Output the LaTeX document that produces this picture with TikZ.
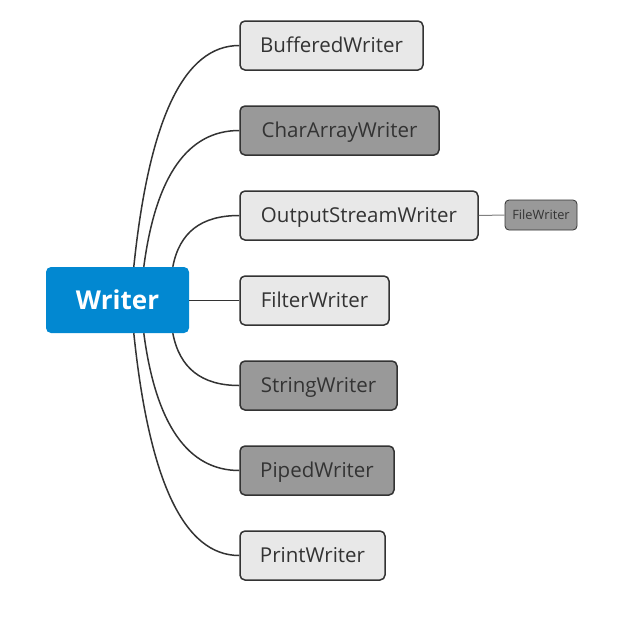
\documentclass[tikz,border=0pt]{standalone}
\usepackage{fontspec}
\setmainfont{Open Sans}
\usetikzlibrary{calc}
\definecolor{wblue}{HTML}{0288D1}
\definecolor{lightfill}{HTML}{E8E8E8}
\definecolor{darkfill}{HTML}{999999}
\definecolor{edge}{HTML}{333333}
\definecolor{txt}{HTML}{333333}
\tikzset{
  x=1pt,y=-1pt,
  child/.style={draw=edge, line width=1.5pt, rounded corners=5pt, minimum height=49pt, inner sep=0pt, text=txt, text height=14.6pt, text depth=0pt, font=\fontsize{20.5}{24}\selectfont},
  lightbox/.style={child, fill=lightfill},
  darkbox/.style={child, fill=darkfill},
  root/.style={fill=wblue, rounded corners=5pt, minimum width=143pt, minimum height=66pt, inner sep=0pt, text=white, text height=18.6pt, text depth=0pt, font=\fontsize{26}{30}\selectfont\bfseries},
  small/.style={draw=edge, line width=0.8pt, fill=darkfill, rounded corners=4pt, minimum width=72pt, minimum height=30pt, inner sep=0pt, text=txt, text height=9.1pt, text depth=0pt, font=\fontsize{12.8}{15}\selectfont},
  conn/.style={draw=edge, line width=1.5pt},
  thin/.style={draw=gray, line width=1pt}
}
\begin{document}
\begin{tikzpicture}
\useasboundingbox (0,0) rectangle (629,625);
\node[root] (w) at (117.5,300) {Writer};
\node[lightbox, minimum width=183pt] (bw) at (331.5,45.5) {BufferedWriter};
\node[darkbox, minimum width=199pt] (caw) at (339.5,130.5) {CharArrayWriter};
\node[lightbox, minimum width=238pt] (osw) at (359,215.5) {OutputStreamWriter};
\node[lightbox, minimum width=149pt] (fw) at (314.5,300.5) {FilterWriter};
\node[darkbox, minimum width=157pt] (sw) at (318.5,385.5) {StringWriter};
\node[darkbox, minimum width=154pt] (pw) at (317,470.5) {PipedWriter};
\node[lightbox, minimum width=145pt] (prw) at (312.5,555.5) {PrintWriter};
\node[small] (fiw) at (541,215) {FileWriter};
% connectors
\draw[conn] ([xshift=88pt]w.north west) .. controls +(15.3,-148) and +(-55.3,0) .. (bw.west);
\draw[conn] ([xshift=98pt]w.north west) .. controls +(12,-91.3) and +(-51.3,0) .. (caw.west);
\draw[conn] ([xshift=127pt]w.north west) .. controls +(6.7,-34.7) and +(-38,0) .. (osw.west);
\draw[conn] (w.east |- fw.west) -- (fw.west);
\draw[conn] ([xshift=127pt]w.south west) .. controls +(6.7,34.7) and +(-38,0) .. (sw.west);
\draw[conn] ([xshift=98pt]w.south west) .. controls +(12,91.3) and +(-51.3,0) .. (pw.west);
\draw[conn] ([xshift=88pt]w.south west) .. controls +(15.3,148) and +(-55.3,0) .. (prw.west);
\draw[thin] (osw.east) -- (fiw.west);
\end{tikzpicture}
\end{document}
